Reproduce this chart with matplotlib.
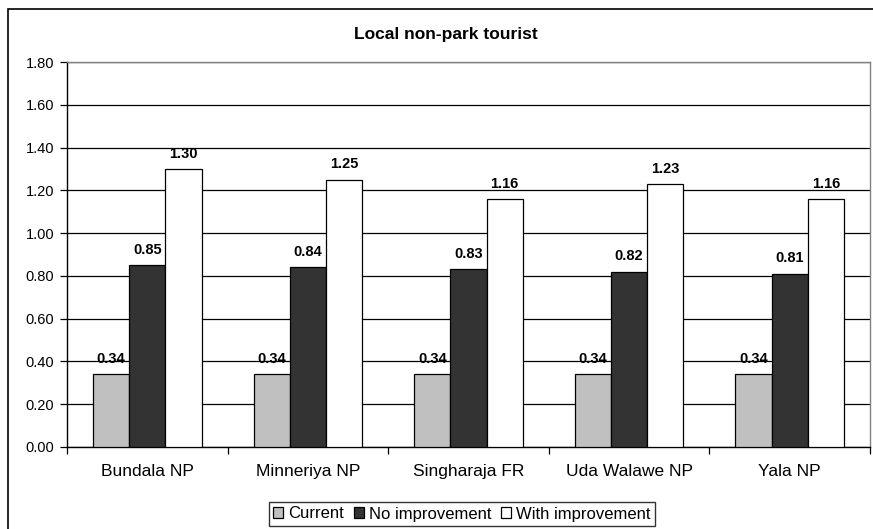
import matplotlib
matplotlib.use("Agg")
import matplotlib.pyplot as plt
import numpy as np
from matplotlib.patches import Rectangle

plt.rcParams['font.family'] = ['Liberation Sans', 'DejaVu Sans']

categories = ["Bundala NP", "Minneriya NP", "Singharaja FR", "Uda Walawe NP", "Yala NP"]
series_names = ["Current", "No improvement", "With improvement"]
current = [0.34, 0.34, 0.34, 0.34, 0.34]
no_improvement = [0.85, 0.84, 0.83, 0.82, 0.81]
with_improvement = [1.30, 1.25, 1.16, 1.23, 1.16]
colors = ["#C0C0C0", "#333333", "#FFFFFF"]
yticks = [0.0, 0.2, 0.4, 0.6, 0.8, 1.0, 1.2, 1.4, 1.6, 1.8]

W, H = 873, 529
fig = plt.figure(figsize=(W / 100, H / 100), dpi=100)

# outer chart frame
fig.patches.append(Rectangle((8 / W, -0.02), 1.05, 1 - 9 / H + 0.02,
                             transform=fig.transFigure, fill=False,
                             edgecolor="black", linewidth=1.2))

ax = fig.add_axes([67 / W, (H - 447) / H, (870 - 67) / W, (447 - 62) / H])

x = np.arange(len(categories))
bw = 0.225
series = [current, no_improvement, with_improvement]
for i, (vals, col, name) in enumerate(zip(series, colors, series_names)):
    pos = x + (i - 1) * bw
    ax.bar(pos, vals, width=bw, color=col, edgecolor="black", linewidth=0.9,
           label=name, zorder=3)
    for px, v in zip(pos, vals):
        ax.annotate(f"{v:.2f}", (px, v), xytext=(0, 6), textcoords="offset points",
                    ha="center", va="bottom", fontsize=10.5, fontweight="bold")

ax.set_xlim(-0.5, len(categories) - 0.5)
ax.set_ylim(0, 1.8)
ax.set_yticks(yticks)
ax.set_yticklabels([f"{t:.2f}" for t in yticks], fontsize=10.5)
ax.yaxis.grid(True, color="black", linewidth=0.9, zorder=0)
ax.set_axisbelow(True)

# category labels centred, tick marks at group boundaries
ax.set_xticks(x)
ax.set_xticklabels(categories, fontsize=12.5)
ax.tick_params(axis="x", which="major", length=0, pad=12)
ax.set_xticks(np.arange(len(categories) + 1) - 0.5, minor=True)
ax.tick_params(axis="x", which="minor", length=5, width=0.9, direction="out")
ax.tick_params(axis="y", length=5, width=0.9, direction="out", pad=4)

for s in ["left", "bottom"]:
    ax.spines[s].set_color("black")
    ax.spines[s].set_linewidth(1.0)
for s in ["top", "right"]:
    ax.spines[s].set_color("#808080")
    ax.spines[s].set_linewidth(1.0)

fig.text(446 / W, 1 - 35 / H, "Local non-park tourist", ha="center", va="center",
         fontsize=12.5, fontweight="bold")

leg = fig.legend(loc="center", bbox_to_anchor=(462 / W, 1 - 514 / H), ncol=3,
                 frameon=True, fancybox=False, edgecolor="black", fontsize=12,
                 handlelength=0.6, handleheight=0.6, handletextpad=0.3,
                 columnspacing=0.6, borderpad=0.25)
leg.get_frame().set_linewidth(1.0)

fig.savefig("out.png", dpi=100)
